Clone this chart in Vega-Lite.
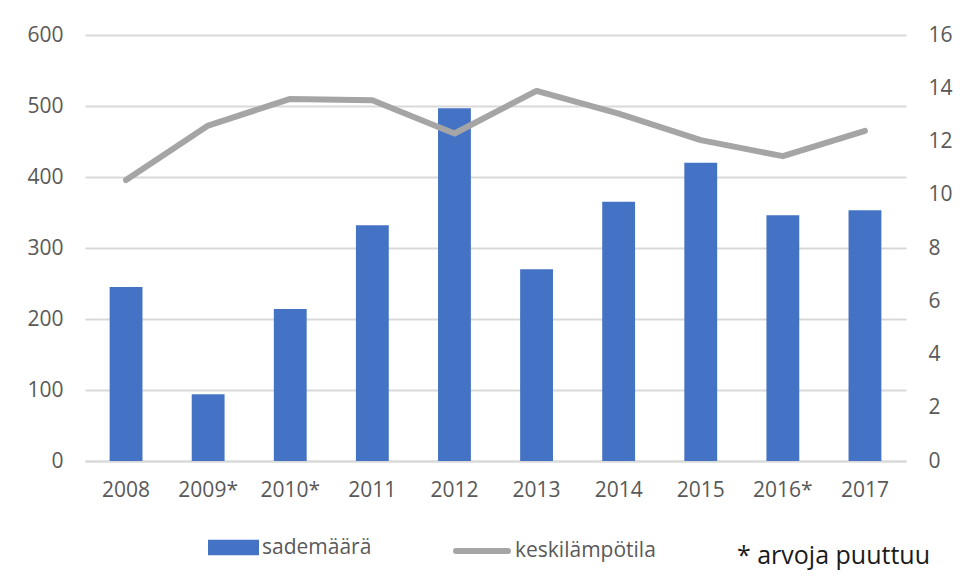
{
  "$schema": "https://vega.github.io/schema/vega-lite/v6.json",
  "autosize": {"type": "none"},
  "width": 821,
  "height": 426,
  "padding": {"left": 85, "top": 35, "right": 54, "bottom": 117},
  "background": "#ffffff",
  "title": {
    "text": "* arvoja puuttuu",
    "orient": "bottom",
    "anchor": "end",
    "frame": "group",
    "font": "Open Sans",
    "fontSize": 25,
    "fontWeight": "normal",
    "color": "#1a1a1a",
    "baseline": "middle",
    "dx": 24,
    "offset": -7
  },
  "data": {
    "values": [
      {"vuosi": "2008", "sademaara": 245, "keskilampotila": 10.55},
      {"vuosi": "2009*", "sademaara": 94, "keskilampotila": 12.6},
      {"vuosi": "2010*", "sademaara": 214, "keskilampotila": 13.6},
      {"vuosi": "2011", "sademaara": 332, "keskilampotila": 13.55},
      {"vuosi": "2012", "sademaara": 497, "keskilampotila": 12.3},
      {"vuosi": "2013", "sademaara": 270, "keskilampotila": 13.9},
      {"vuosi": "2014", "sademaara": 365, "keskilampotila": 13.05},
      {"vuosi": "2015", "sademaara": 420, "keskilampotila": 12.05},
      {"vuosi": "2016*", "sademaara": 346, "keskilampotila": 11.45},
      {"vuosi": "2017", "sademaara": 353, "keskilampotila": 12.4}
    ]
  },
  "encoding": {
    "x": {
      "field": "vuosi",
      "type": "nominal",
      "sort": null,
      "scale": {"paddingInner": 0.6, "paddingOuter": 0.3},
      "axis": {
        "title": null,
        "labelAngle": 0,
        "ticks": false,
        "domainColor": "#d9d9d9",
        "domainWidth": 2,
        "labelPadding": 18,
        "labelFont": "Open Sans",
        "labelFontSize": 21,
        "labelColor": "#595959"
      }
    }
  },
  "layer": [
    {
      "mark": {"type": "bar", "color": "#4472c4"},
      "encoding": {
        "y": {
          "field": "sademaara",
          "type": "quantitative",
          "scale": {"domain": [0, 600], "nice": false},
          "axis": {
            "title": null,
            "orient": "left",
            "values": [0, 100, 200, 300, 400, 500, 600],
            "grid": true,
            "gridColor": "#d9d9d9",
            "gridWidth": 2,
            "domain": false,
            "ticks": false,
            "labelPadding": 22,
            "labelFont": "Open Sans",
            "labelFontSize": 21,
            "labelColor": "#595959"
          }
        },
        "fill": {
          "datum": "sademäärä",
          "scale": {"range": ["#4472c4"]},
          "legend": {
            "title": null,
            "orient": "none",
            "legendX": 123,
            "legendY": 487,
            "padding": 0,
            "symbolType": "M-1,-0.3H1V0.3H-1Z",
            "symbolSize": 2601,
            "symbolStrokeWidth": 0,
            "labelOffset": 3,
            "labelFont": "Open Sans",
            "labelFontSize": 21,
            "labelColor": "#595959"
          }
        }
      }
    },
    {
      "mark": {
        "type": "line",
        "strokeWidth": 6,
        "strokeJoin": "round",
        "strokeCap": "round"
      },
      "encoding": {
        "y": {
          "field": "keskilampotila",
          "type": "quantitative",
          "scale": {"domain": [0, 16], "nice": false},
          "axis": {
            "title": null,
            "orient": "right",
            "values": [0, 2, 4, 6, 8, 10, 12, 14, 16],
            "grid": false,
            "domain": false,
            "ticks": false,
            "labelPadding": 22,
            "labelFont": "Open Sans",
            "labelFontSize": 21,
            "labelColor": "#595959"
          }
        },
        "stroke": {
          "datum": "keskilämpötila",
          "scale": {"range": ["#a5a5a5"]},
          "legend": {
            "title": null,
            "orient": "none",
            "legendX": 368,
            "legendY": 487,
            "padding": 0,
            "symbolType": "stroke",
            "symbolSize": 2704,
            "symbolStrokeWidth": 6,
            "labelOffset": 4,
            "labelFont": "Open Sans",
            "labelFontSize": 21,
            "labelColor": "#595959",
            "encode": {"symbols": {"update": {"strokeCap": {"value": "round"}}}}
          }
        }
      }
    }
  ],
  "resolve": {"scale": {"y": "independent"}},
  "config": {"view": {"stroke": null}}
}
